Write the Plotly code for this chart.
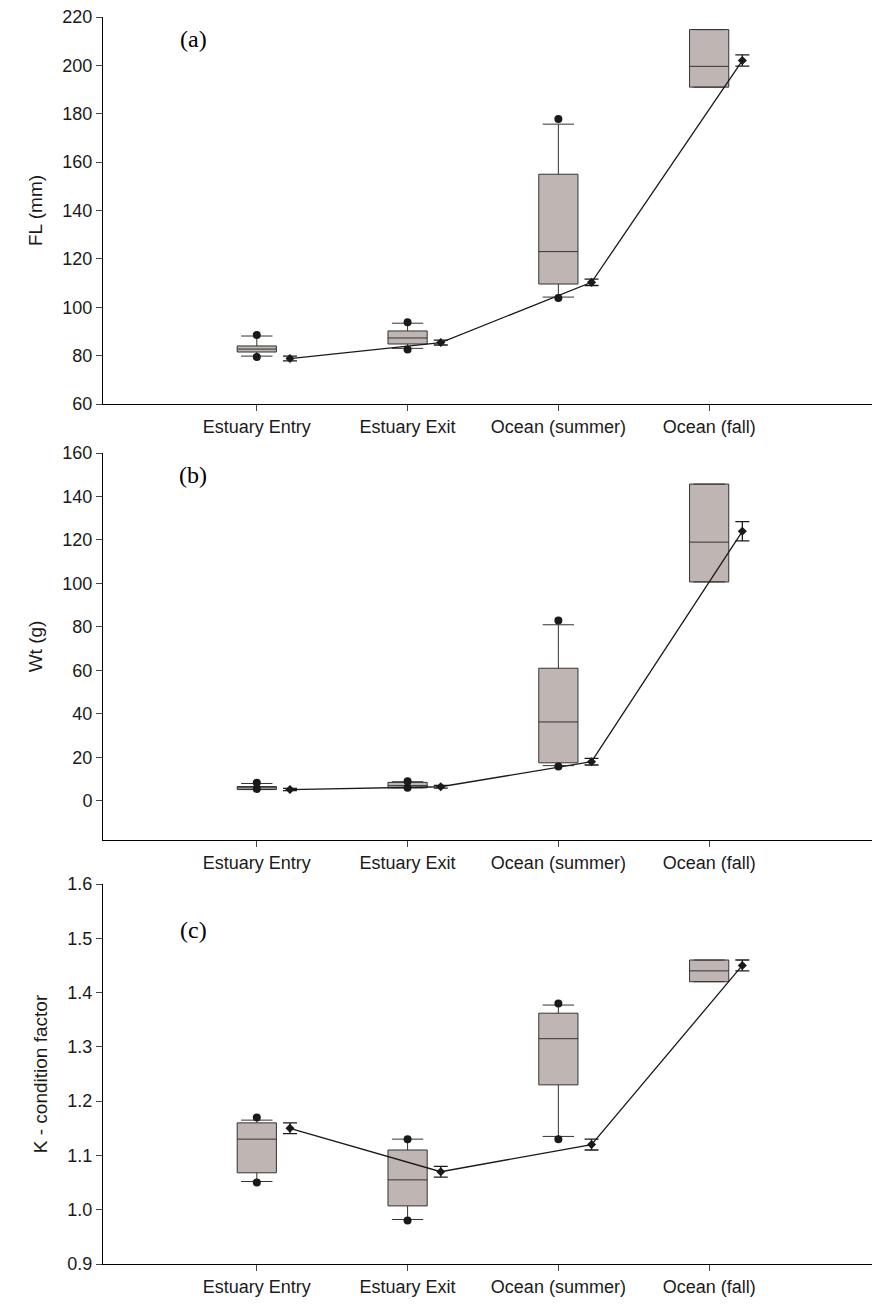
import plotly.graph_objects as go

categories = ["Estuary Entry", "Estuary Exit", "Ocean (summer)", "Ocean (fall)"]

# panel (a) FL (mm)
fl_q1 = [81.5, 84.8, 109.6, 191.0]
fl_med = [82.7, 87.3, 123.0, 199.6]
fl_q3 = [84.0, 90.2, 155.0, 214.8]
fl_lo = [79.8, 83.0, 104.2, 191.0]
fl_hi = [88.1, 93.4, 175.7, 214.8]
fl_dot_lo = [79.4, 82.5, 103.8, None]
fl_dot_hi = [88.5, 93.8, 177.8, None]
fl_mean = [78.8, 85.4, 110.3, 202.0]
fl_err = [1.0, 1.0, 1.3, 2.3]

# panel (b) Wt (g)
wt_q1 = [5.2, 6.0, 17.5, 100.7]
wt_med = [6.0, 7.0, 36.3, 119.0]
wt_q3 = [6.6, 8.5, 61.0, 145.7]
wt_lo = [5.5, 6.0, 16.2, 100.7]
wt_hi = [8.0, 8.8, 81.0, 145.7]
wt_dot_lo = [5.5, 6.0, 15.8, None]
wt_dot_hi = [8.3, 9.0, 83.0, None]
wt_mean = [5.2, 6.5, 18.0, 124.0]
wt_err = [0.5, 0.6, 1.5, 4.4]

# panel (c) K - condition factor
k_q1 = [1.068, 1.007, 1.23, 1.42]
k_med = [1.13, 1.055, 1.315, 1.44]
k_q3 = [1.16, 1.11, 1.362, 1.46]
k_lo = [1.052, 0.982, 1.135, 1.42]
k_hi = [1.165, 1.13, 1.377, 1.46]
k_dot_lo = [1.05, 0.98, 1.13, None]
k_dot_hi = [1.17, 1.13, 1.38, None]
k_mean = [1.15, 1.07, 1.12, 1.45]
k_err = [0.01, 0.01, 0.01, 0.01]

panels = [
    dict(q1=fl_q1, med=fl_med, q3=fl_q3, lo=fl_lo, hi=fl_hi, dlo=fl_dot_lo, dhi=fl_dot_hi,
         mean=fl_mean, err=fl_err, title="FL (mm)", rng=[60, 220], dtick=20, tag="(a)", tagy=211),
    dict(q1=wt_q1, med=wt_med, q3=wt_q3, lo=wt_lo, hi=wt_hi, dlo=wt_dot_lo, dhi=wt_dot_hi,
         mean=wt_mean, err=wt_err, title="Wt (g)", rng=[-18, 160], dtick=20, tag="(b)", tagy=150),
    dict(q1=k_q1, med=k_med, q3=k_q3, lo=k_lo, hi=k_hi, dlo=k_dot_lo, dhi=k_dot_hi,
         mean=k_mean, err=k_err, title="K - condition factor", rng=[0.9, 1.6], dtick=0.1, tag="(c)", tagy=1.515),
]

H = 1291
tops = [9, 445, 876]
bots = [396, 832, 1256]
xs = [0, 1, 2, 3]
off = 0.22

fig = go.Figure()
for i, p in enumerate(panels):
    n = "" if i == 0 else str(i + 1)
    xa, ya = "x" + n, "y" + n
    fig.add_trace(go.Box(x=xs, q1=p["q1"], median=p["med"], q3=p["q3"],
                         lowerfence=p["lo"], upperfence=p["hi"], width=0.26, whiskerwidth=0.8,
                         fillcolor="#bfb6b4", line=dict(color="#333333", width=1),
                         boxpoints=False, xaxis=xa, yaxis=ya, hoverinfo="skip"))
    fig.add_trace(go.Scatter(x=xs + xs, y=p["dlo"] + p["dhi"], mode="markers",
                             marker=dict(color="#1a1a1a", size=8), xaxis=xa, yaxis=ya))
    fig.add_trace(go.Scatter(x=[v + off for v in xs], y=p["mean"], mode="lines+markers",
                             line=dict(color="#1a1a1a", width=1.3),
                             marker=dict(color="#1a1a1a", size=7, symbol="diamond"),
                             error_y=dict(type="data", array=p["err"], color="#1a1a1a", thickness=1.3, width=7),
                             xaxis=xa, yaxis=ya))
    dom = [1 - bots[i] / H, 1 - tops[i] / H]
    fig.layout["xaxis" + n] = dict(range=[-1.02, 4.08], tickvals=xs, ticktext=categories,
                                   ticks="outside", ticklen=6, showline=True, linecolor="black",
                                   showgrid=False, zeroline=False, anchor=ya, automargin=False,
                                   ticklabeloverflow="allow", tickfont=dict(size=18))
    fig.layout["yaxis" + n] = dict(range=p["rng"], dtick=p["dtick"], domain=dom, anchor=xa,
                                   ticks="outside", ticklen=6, showline=True, linecolor="black",
                                   showgrid=False, zeroline=False, automargin=False,
                                   ticklabeloverflow="allow",
                                   tickformat=".1f" if i == 2 else "d",
                                   title=dict(text=p["title"], font=dict(size=19), standoff=14),
                                   tickfont=dict(size=18))
    fig.add_annotation(x=-0.42, y=p["tagy"], xref=xa, yref=ya, text=p["tag"], showarrow=False,
                       font=dict(family="Liberation Serif", size=24, color="black"))

fig.update_layout(width=864, height=1291, showlegend=False, plot_bgcolor="white",
                  paper_bgcolor="white", margin=dict(l=95, r=0, t=0, b=0),
                  font=dict(family="Liberation Sans", color="#1a1a1a"))
fig.write_html("out.html")
